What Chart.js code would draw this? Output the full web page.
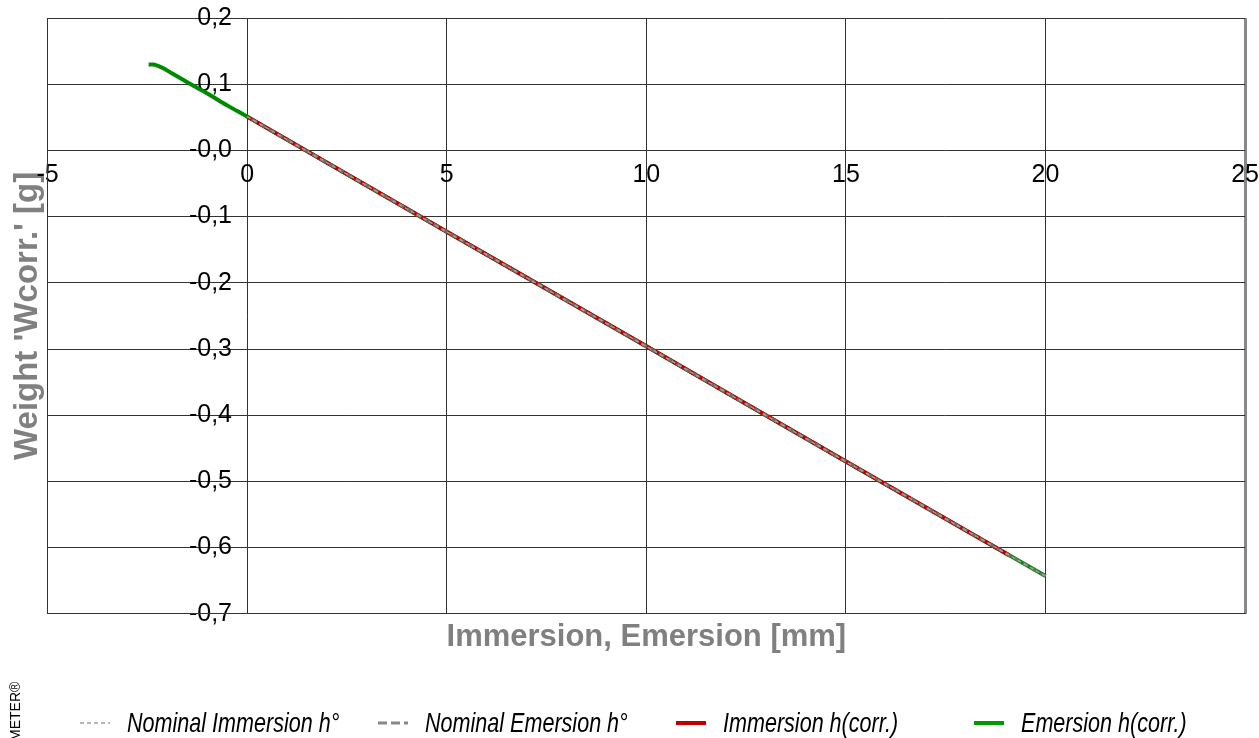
<!DOCTYPE html>
<html>
<head>
<meta charset="utf-8">
<script src="https://cdn.jsdelivr.net/npm/chart.js@4.4.1/dist/chart.umd.min.js"></script>
<style>
  html, body { margin: 0; padding: 0; background: #fff; }
  #wrap { width: 1259px; height: 738px; position: relative; overflow: hidden; }
  #legend { position: absolute; left: 80px; top: 709px; height: 28px; display: flex; }
  .legend-item { width: 298px; height: 28px; display: flex; align-items: center; }
  .legend-item svg { flex: 0 0 30px; }
  .legend-item span {
    margin-left: 17px;
    font: italic 28px "Liberation Sans", Arial, sans-serif;
    line-height: 28px;
    color: #000;
    white-space: nowrap;
    display: inline-block;
    transform: scaleX(0.77);
    transform-origin: left center;
  }
</style>
</head>
<body>
<div id="wrap"><canvas id="chart"></canvas><div id="legend"></div></div>
<script>
const xTickValues = [-5, 0, 5, 10, 15, 20, 25];
const xTickLabels = ["-5", "0", "5", "10", "15", "20", "25"];
const yTickValues = [-0.7, -0.6, -0.5, -0.4, -0.3, -0.2, -0.1, 0, 0.1, 0.2];
const yTickLabels = ["-0,7", "-0,6", "-0,5", "-0,4", "-0,3", "-0,2", "-0,1", "-0,0", "0,1", "0,2"];

const seriesNames = ["Nominal Immersion h°", "Nominal Emersion h°", "Immersion h(corr.)", "Emersion h(corr.)"];

const nominalImmX = [0, 5, 10, 15, 20];
const nominalImmY = [0.051, -0.123, -0.296, -0.470, -0.643];
const nominalEmX = [20, 15, 10, 5, 0];
const nominalEmY = [-0.643, -0.470, -0.296, -0.123, 0.051];
const immersionX = [0, 5, 10, 15, 19.1];
const immersionY = [0.051, -0.123, -0.296, -0.470, -0.612];
const emersionX = [20, 15, 10, 5, 0, -0.5, -1.0, -1.5, -1.9, -2.1, -2.25, -2.35, -2.47];
const emersionY = [-0.643, -0.470, -0.296, -0.123, 0.051, 0.068, 0.086, 0.103, 0.117, 0.124, 0.128, 0.1298, 0.1295];

function toPoints(xs, ys) {
  return xs.map((x, i) => ({ x, y: ys[i] }));
}

Chart.defaults.font.family = "'Liberation Sans', Arial, sans-serif";
Chart.defaults.color = "#000";

// rotated product name, cut off by the lower edge
const sideNote = {
  id: "sideNote",
  afterDraw(chart) {
    const ctx = chart.ctx;
    ctx.save();
    ctx.translate(20, 741);
    ctx.rotate(-Math.PI / 2);
    ctx.font = "14px 'Liberation Sans', Arial";
    ctx.fillStyle = "#000";
    ctx.textBaseline = "alphabetic";
    ctx.fillText("METER®", 0, 0);
    ctx.restore();
  }
};

// legend as html, built from the datasets
const htmlLegend = {
  id: "htmlLegend",
  afterUpdate(chart) {
    const box = document.getElementById("legend");
    box.innerHTML = "";
    chart.data.datasets.forEach((ds) => {
      const item = document.createElement("div");
      item.className = "legend-item";
      const dash = ds.legendDash || (ds.borderDash ? ds.borderDash.join(",") : "none");
      item.innerHTML =
        `<svg width="30" height="8"><line x1="0" y1="4" x2="30" y2="4" stroke="${ds.legendColor || ds.borderColor}" ` +
        `stroke-width="${ds.borderWidth}" stroke-dasharray="${dash}"/></svg>`;
      const label = document.createElement("span");
      label.textContent = ds.label;
      item.appendChild(label);
      box.appendChild(item);
    });
  }
};

const ctx = document.getElementById("chart").getContext("2d");

new Chart(ctx, {
  type: "scatter",
  data: {
    datasets: [
      {
        label: seriesNames[0],
        data: toPoints(nominalImmX, nominalImmY),
        showLine: true,
        borderColor: "#a0a0a0",
        borderWidth: 1.5,
        borderDash: [4, 3],
        pointRadius: 0
      },
      {
        label: seriesNames[1],
        data: toPoints(nominalEmX, nominalEmY),
        showLine: true,
        borderColor: "#6e6e6e",
        legendColor: "#888",
        legendDash: "9,4",
        borderWidth: 3,
        borderDash: [6, 4],
        pointRadius: 0
      },
      {
        label: seriesNames[2],
        data: toPoints(immersionX, immersionY),
        showLine: true,
        borderColor: "#c00000",
        borderWidth: 4,
        pointRadius: 0
      },
      {
        label: seriesNames[3],
        data: toPoints(emersionX, emersionY),
        showLine: true,
        borderColor: "#008a00",
        legendColor: "#009900",
        borderWidth: 4,
        cubicInterpolationMode: "monotone",
        pointRadius: 0
      }
    ]
  },
  options: {
    responsive: true,
    maintainAspectRatio: false,
    animation: false,
    layout: { padding: { left: 0, right: 0, top: 4, bottom: 79 } },
    plugins: {
      tooltip: { enabled: false },
      legend: { display: false }
    },
    scales: {
      x: {
        type: "linear",
        min: -5,
        max: 25,
        // labels sit a little below the y = 0 line
        position: { y: -0.015 },
        afterBuildTicks: (s) => { s.ticks = xTickValues.map((v) => ({ value: v })); },
        ticks: {
          callback: (v, i) => xTickLabels[i],
          font: { size: 25 },
          color: "#000",
          padding: 0,
          maxRotation: 0,
          autoSkip: false
        },
        grid: {
          color: (c) => (c.tick && c.tick.value === 25 ? "#888" : "#333"),
          lineWidth: (c) => (c.tick && c.tick.value === 25 ? 3 : 1),
          drawTicks: false
        },
        border: { display: false }
      },
      y: {
        type: "linear",
        min: -0.7,
        max: 0.2,
        // labels sit a little left of the x = 0 line
        position: { x: -0.38 },
        afterBuildTicks: (s) => { s.ticks = yTickValues.map((v) => ({ value: v })); },
        ticks: {
          callback: (v, i) => yTickLabels[i],
          font: { size: 25 },
          color: "#000",
          autoSkip: false
        },
        grid: { color: "#333", drawTicks: false },
        border: { display: false }
      },
      xTitle: {
        type: "linear",
        axis: "x",
        position: "bottom",
        min: -5,
        max: 25,
        ticks: { display: false },
        grid: { display: false, drawTicks: false },
        border: { display: true, color: "#333" },
        title: {
          display: true,
          text: "Immersion, Emersion [mm]",
          color: "#808080",
          font: { size: 31, weight: "bold" },
          padding: { top: 5, bottom: 3 }
        }
      },
      yTitle: {
        type: "linear",
        axis: "y",
        position: "left",
        min: -0.7,
        max: 0.2,
        ticks: { display: false },
        grid: { display: false, drawTicks: false },
        border: { display: true, color: "#333" },
        title: {
          display: true,
          text: "Weight 'Wcorr.' [g]",
          color: "#808080",
          font: { size: 33, weight: "bold" },
          padding: { top: 8, bottom: 0 }
        }
      }
    }
  },
  plugins: [sideNote, htmlLegend]
});
</script>
</body>
</html>
